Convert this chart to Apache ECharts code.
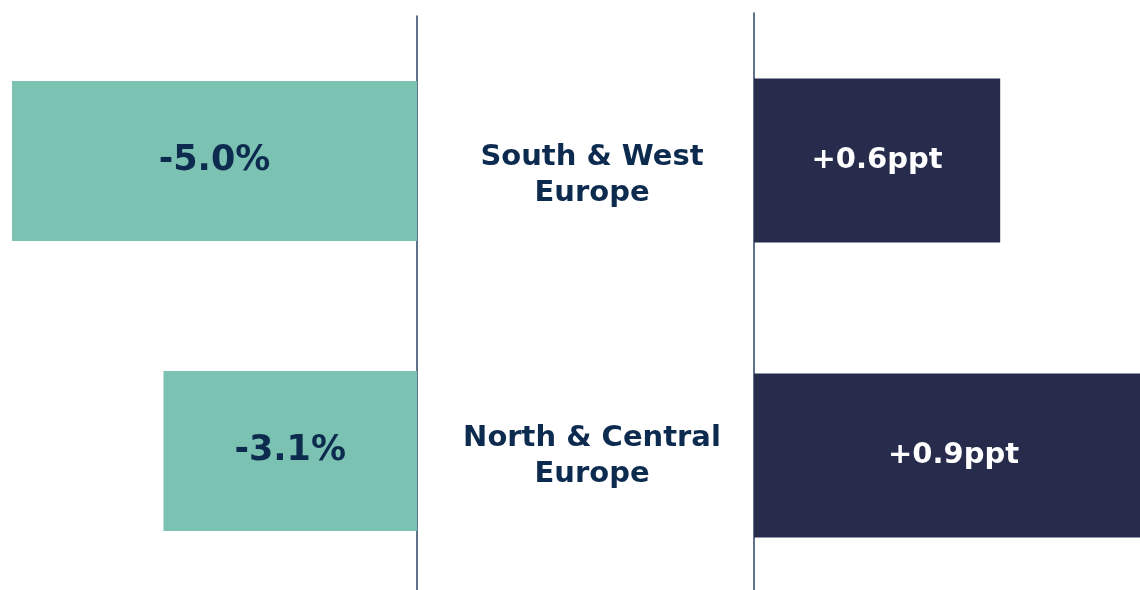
<!DOCTYPE html>
<html>
<head>
<meta charset="utf-8">
<script src="https://cdn.jsdelivr.net/npm/echarts@6/dist/echarts.min.js"></script>
<style>
  html, body { margin: 0; padding: 0; background: #fff; }
  #main { width: 1140px; height: 590px; }
</style>
</head>
<body>
<div id="main"></div>
<script>
// regions (top to bottom)
const regions = ['South & West\nEurope', 'North & Central\nEurope']
// left bars: % change
const pctChange = [-5.0, -3.13]
// right bars: change in percentage points
const pptChange = [0.58, 0.94]

const teal = '#7BC2B2'
const navy = '#272C4D'
const ink = '#0D2B4F'
const axisCol = '#2A4466'
const fontFam = '"DejaVu Sans", Verdana, sans-serif'

const chart = echarts.init(document.getElementById('main'))
const option = {
  animation: false,
  grid: [
    { left: 12, width: 405, top: 16, height: 580, outerBoundsMode: 'none' },
    { left: 754, width: 399, top: 13, height: 590, outerBoundsMode: 'none' },
    { left: 592, width: 1, top: 34.5, height: 562, outerBoundsMode: 'none' }
  ],
  xAxis: [
    { gridIndex: 0, type: 'value', min: -5, max: 0, show: false },
    { gridIndex: 1, type: 'value', min: 0, max: 0.94, show: false },
    { gridIndex: 2, type: 'value', min: 0, max: 1, show: false }
  ],
  yAxis: [
    {
      gridIndex: 0, type: 'category', data: regions, inverse: true, position: 'right',
      axisLine: { show: true, lineStyle: { color: axisCol, width: 1.5 } },
      axisTick: { show: false }, axisLabel: { show: false }
    },
    {
      gridIndex: 1, type: 'category', data: regions, inverse: true, position: 'left',
      axisLine: { show: true, lineStyle: { color: axisCol, width: 1.5 } },
      axisTick: { show: false }, axisLabel: { show: false }
    },
    {
      gridIndex: 2, type: 'category', data: regions, inverse: true, position: 'left',
      axisLine: { show: false }, axisTick: { show: false },
      axisLabel: {
        margin: 0, align: 'center', color: ink, fontFamily: fontFam,
        fontWeight: 'bold', fontSize: 29, lineHeight: 36
      }
    }
  ],
  series: [
    {
      type: 'bar', xAxisIndex: 0, yAxisIndex: 0, data: pctChange, barWidth: 160,
      itemStyle: { color: teal },
      label: {
        show: true, position: 'inside', color: ink, fontFamily: fontFam,
        fontWeight: 'bold', fontSize: 35,
        formatter: p => p.value.toFixed(1) + '%'
      }
    },
    {
      type: 'bar', xAxisIndex: 1, yAxisIndex: 1, data: pptChange, barWidth: 164,
      itemStyle: { color: navy },
      label: {
        show: true, position: 'inside', color: '#fff', fontFamily: fontFam,
        fontWeight: 'bold', fontSize: 29,
        formatter: p => '+' + p.value.toFixed(1) + 'ppt'
      }
    }
  ]
}
chart.setOption(option)
</script>
</body>
</html>
